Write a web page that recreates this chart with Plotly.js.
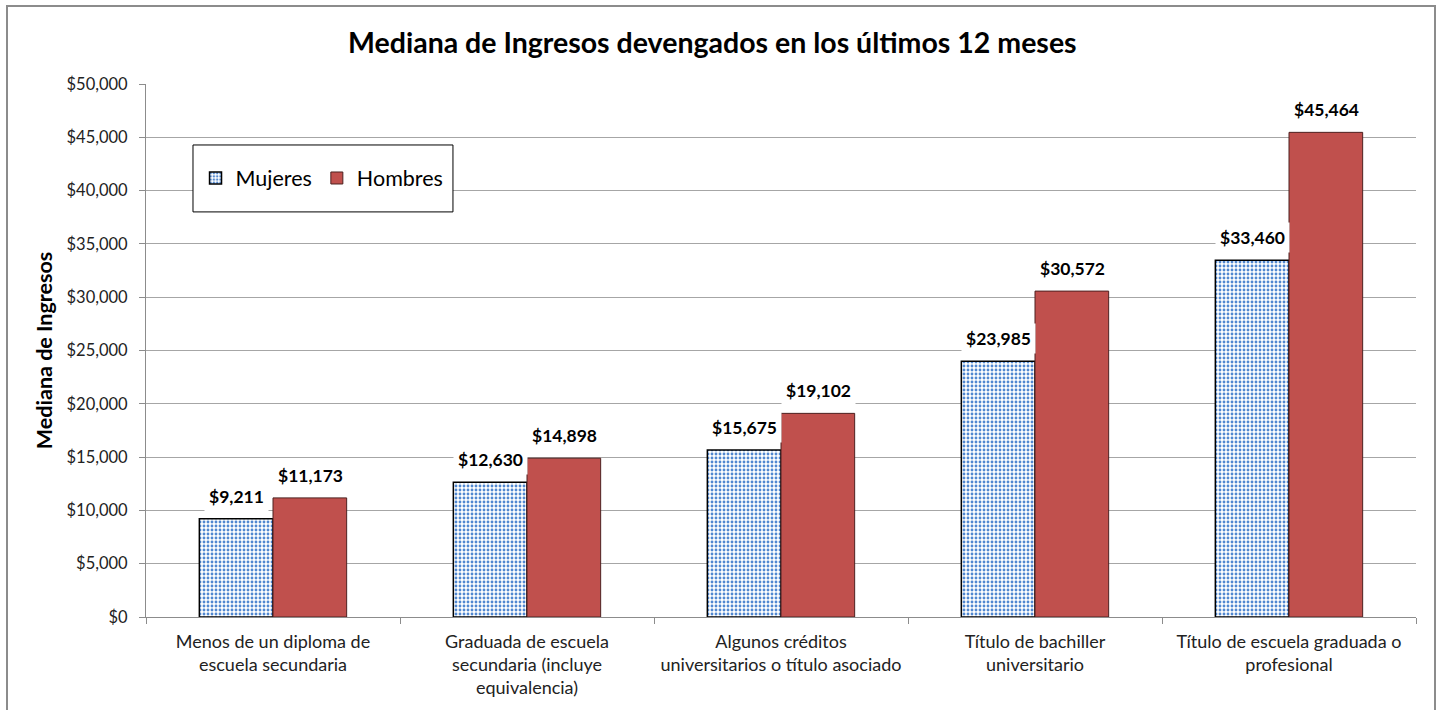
<!DOCTYPE html>
<html>
<head>
<meta charset="utf-8">
<script src="https://cdn.plot.ly/plotly-3.0.1.min.js"></script>
<style>
html,body{margin:0;padding:0;background:#fff;}
#wrap{position:relative;width:1442px;height:710px;}
#chart{position:absolute;left:0;top:0;width:1442px;height:710px;}
#frame{position:absolute;left:6px;top:5px;width:1430px;height:712px;border:2px solid #8c8c8c;box-sizing:border-box;pointer-events:none;}
</style>
</head>
<body>
<div id="wrap"><div id="chart"></div><div id="frame"></div></div>
<script>
const categories = [
  "Menos de un diploma de<br>escuela secundaria",
  "Graduada de escuela<br>secundaria (incluye<br>equivalencia)",
  "Algunos créditos<br>universitarios o título asociado",
  "Título de bachiller<br>universitario",
  "Título de escuela graduada o<br>profesional"
];
const mujeres = [9211, 12630, 15675, 23985, 33460];
const hombres = [11173, 14898, 19102, 30572, 45464];
const seriesNames = ["Mujeres", "Hombres"];
const yTickVals = [0, 5000, 10000, 15000, 20000, 25000, 30000, 35000, 40000, 45000, 50000];

const FONT = "Lato, 'Open Sans', sans-serif";
const fmt = v => "$" + v.toLocaleString("en-US");

const traces = [
  {
    type: "bar", name: seriesNames[0], x: categories, y: mujeres,
    marker: {
      color: "#ffffff",
      pattern: {shape: ".", fgcolor: "#5087d0", bgcolor: "#ffffff", size: 4, solidity: 0.4, fillmode: "replace"},
      line: {color: "#000000", width: 1.5}
    },
    hoverinfo: "y"
  },
  {
    type: "bar", name: seriesNames[1], x: categories, y: hombres,
    marker: {color: "#c0504d", line: {color: "#4d2120", width: 1}},
    hoverinfo: "y"
  }
];

const annotations = [];
const addLabels = (vals, shift) => vals.forEach((v, i) => annotations.push({
  x: categories[i], y: v, xref: "x", yref: "y", text: "<b>" + fmt(v) + "</b>",
  showarrow: false, yanchor: "bottom", xshift: shift, yshift: 7,
  bgcolor: "#ffffff", borderpad: 4, font: {family: FONT, size: 17.5, color: "#000"}
}));
addLabels(mujeres, -37);
addLabels(hombres, 37);

const layout = {
  width: 1442, height: 710,
  margin: {l: 146, r: 26, t: 84, b: 93},
  paper_bgcolor: "#ffffff", plot_bgcolor: "#ffffff",
  font: {family: FONT, color: "#222"},
  title: {text: "<b>Mediana de Ingresos devengados en los últimos 12 meses</b>",
          font: {family: FONT, size: 28.5, color: "#000"}, x: 0.494, xref: "container", y: 0.94, yref: "container", yanchor: "middle"},
  barmode: "group", bargap: 0.42, bargroupgap: 0,
  xaxis: {
    type: "category", showline: true, linecolor: "#8c8c8c", linewidth: 1,
    ticks: "outside", tickson: "boundaries", ticklen: 6, tickcolor: "#8c8c8c",
    ticklabelstandoff: 8,
    tickfont: {family: FONT, size: 18, color: "#222"}, showgrid: false
  },
  yaxis: {
    range: [0, 50000], tickvals: yTickVals, ticktext: yTickVals.map(fmt),
    showline: true, linecolor: "#8c8c8c", linewidth: 1,
    ticks: "outside", ticklen: 6, tickcolor: "#8c8c8c", ticklabelstandoff: 8,
    gridcolor: "#a6a6a6", gridwidth: 1, zeroline: false,
    tickfont: {family: FONT, size: 16.5, color: "#222"},
    title: {text: "<b>Mediana de Ingresos</b>", font: {family: FONT, size: 21.5, color: "#000"}, standoff: 8}
  },
  legend: {
    orientation: "h", x: 0.039, y: 0.8236, xanchor: "left", yanchor: "middle",
    bgcolor: "rgba(0,0,0,0)", borderwidth: 0, itemwidth: 30,
    font: {family: FONT, size: 21.5, color: "#000"}
  },
  shapes: [{
    type: "rect", xref: "paper", yref: "paper",
    x0: 0.037, x1: 0.2417, y0: 0.760, y1: 0.8856,
    line: {color: "#000", width: 1}, fillcolor: "#ffffff", layer: "above"
  }],
  annotations: annotations,
  showlegend: true
};

Plotly.newPlot("chart", traces, layout, {displayModeBar: false, staticPlot: true});
</script>
</body>
</html>
